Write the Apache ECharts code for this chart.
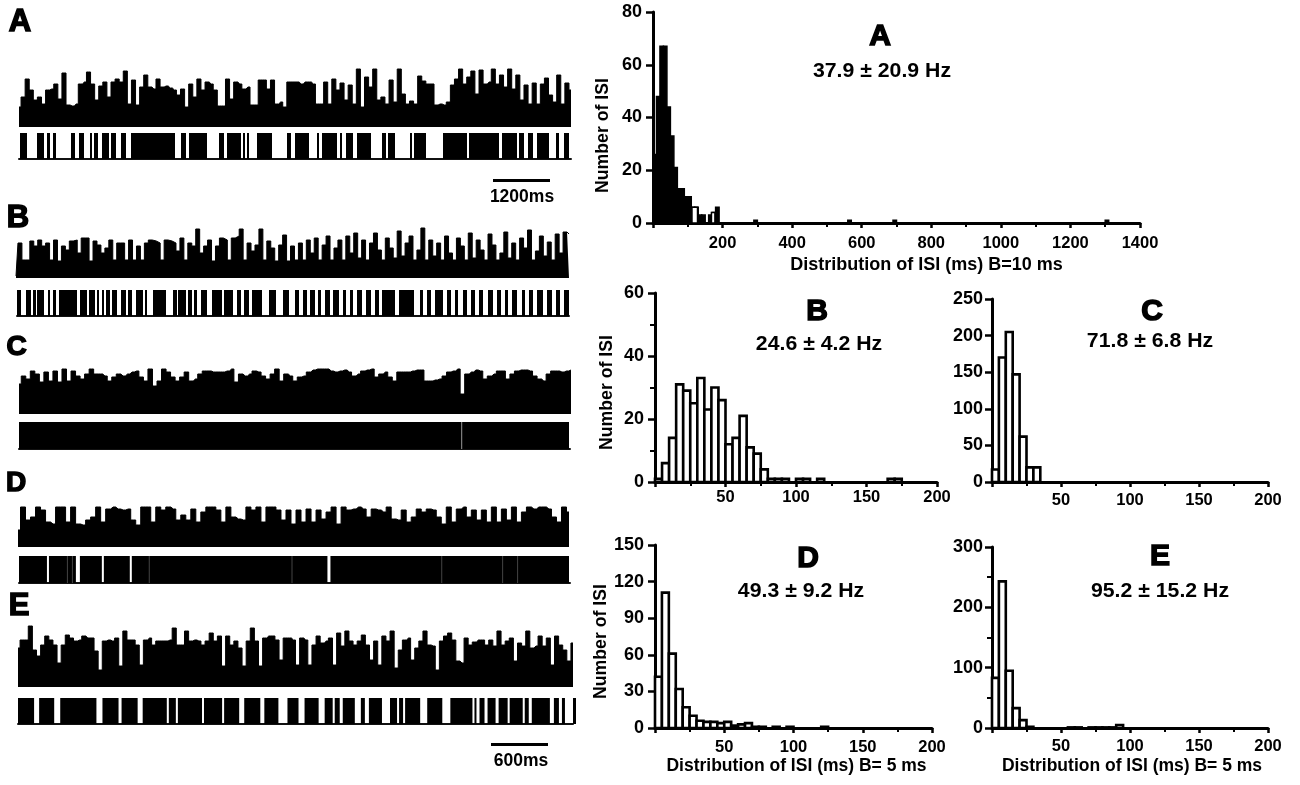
<!DOCTYPE html>
<html>
<head>
<meta charset="utf-8">
<title>ISI distributions</title>
<script src="https://cdn.jsdelivr.net/npm/echarts@6/dist/echarts.min.js"></script>
<style>
html, body {margin:0; padding:0; background:#fff;}
#main {width:1300px; height:785px;}
</style>
</head>
<body>
<div id="main"></div>
<script>
// ISI histograms: counts per bin
var histAHead = [26,48,67,67,44,33,21,13,13,10,10,6,6,3,3,0,3,4,6]; // 10 ms bins from 0
var histATail = [[290,1],[560,1],[690,1],[1300,1]];                 // [bin start, count]
var histAHollow = [[112,128,6],[168,178,4]];
var histB = [1,6,14,31,29,25,33,23,30,26,12,14,21,11,9,4,1,1,1,0,1,1,0,1,0,0,0,0,0,0,0,0,0,1,1];
var histC = [17,170,205,147,62,20,20];
var histD = [42,111,61,32,17,10,6,5,5,4,5,2,3,4,1,1,0,1,0,1,0,0,0,0,1];
var histE = [83,243,95,33,13,2,0,0,0,0,0,1,1,0,1,1,1,1,5];

// voltage traces: envelope height along the sweep
var traceA = [20,30,48,37,27,30,23,37,38,43,28,54,22,21,23,43,45,55,43,27,41,45,30,45,48,45,56,23,47,22,40,52,40,38,48,40,41,39,37,32,38,20,43,30,48,37,45,43,37,21,21,48,28,45,43,38,40,22,22,47,47,38,47,23,25,20,45,45,
  45,43,45,45,43,23,23,45,23,48,37,44,27,42,23,58,20,50,40,58,27,30,23,47,25,58,33,23,26,23,51,46,43,43,22,23,22,25,42,48,58,43,50,56,33,57,43,45,58,43,52,40,58,38,52,27,42,23,44,23,43,49,32,25,52,23,44,37];
var traceB = [2,35,18,18,37,32,38,32,35,18,38,17,32,28,37,38,25,40,40,17,37,33,25,30,38,18,35,35,18,38,18,32,18,35,38,37,35,18,38,37,35,27,40,18,35,32,49,25,32,38,17,32,40,38,18,40,42,49,18,35,27,33,49,18,37,30,17,33,43,17,32,18,
  35,18,38,25,40,18,33,42,18,30,38,18,42,25,45,20,38,18,35,45,28,18,40,30,20,47,22,35,42,18,28,50,18,38,22,35,18,42,25,18,40,32,18,45,20,38,28,18,44,33,18,25,46,20,35,18,40,30,48,18,27,42,22,36,18,44,25,46,44];
var traceC = [30,38,35,43,40,32,42,33,43,32,45,33,43,38,35,40,45,40,40,38,33,37,40,38,40,42,43,37,33,45,28,33,45,42,37,33,37,42,33,35,40,43,43,42,42,42,43,45,32,40,38,40,43,42,38,35,40,45,33,40,38,33,37,38,42,44,45,45,45,43,42,43,44,42,38,40,43,44,45,37,40,42,37,33,42,42,42,43,44,44,33,33,34,35,38,42,43,45,20,40,42,44,43,35,38,40,43,43,35,40,43,44,44,43,38,35,33,40,43,43,42,43,44];
var traceD = [17,40,27,30,40,37,25,23,40,40,25,40,23,22,27,30,40,25,38,40,38,37,38,27,22,40,40,25,40,37,40,38,27,32,27,38,25,35,40,40,37,25,40,30,28,27,40,37,40,25,40,40,37,27,37,23,37,25,38,25,37,28,35,40,23,40,37,38,40,38,30,38,37,35,40,28,27,37,25,30,38,35,38,37,30,23,40,25,38,40,30,37,27,37,25,40,25,38,27,40,25,35,40,38,40,40,38,30,25,40,35];
var traceE = [39,47,47,61,37,31,42,51,47,42,24,42,52,49,46,47,51,49,49,36,17,46,47,46,49,21,56,47,47,42,22,47,49,42,46,46,46,47,59,42,42,56,46,47,46,42,46,54,46,51,21,51,42,46,39,21,46,59,46,21,49,51,51,47,27,49,49,47,22,
  49,47,22,42,51,44,46,49,22,54,41,56,46,42,46,52,42,27,46,22,51,46,56,19,37,47,49,27,39,46,56,42,41,17,46,51,54,47,26,24,49,42,45,47,47,42,47,41,56,42,46,49,26,44,41,56,39,41,51,41,49,22,51,42,37,26,44];

// spike rasters: [on, off] along the sweep
var rasterA = [[1,8],[18,25],[28,31],[34,37],[52,56],[60,65],[71,73],[75,79],[83,90],[92,97],[102,107],[112,156],[162,167],[170,188],[200,205],[208,222],[224,226],[228,230],[238,253],[268,272],[276,290],[298,300],[303,318],[321,323],[327,334],[338,352],[363,367],[369,376],[391,393],[395,407],[424,448],[450,480],[483,498],[500,505],[509,514],[518,530],[537,540],[545,550]];
var rasterB = [[0,4],[9,14],[16,19],[20,27],[31,33],[36,39],[42,60],[63,70],[72,78],[80,82],[85,87],[89,93],[95,100],[104,109],[111,115],[119,126],[128,130],[136,149],[156,160],[161,169],[171,175],[177,180],[184,190],[195,205],[207,216],[220,224],[227,232],[235,245],[252,259],[266,272],[278,282],[286,290],[293,298],[301,304],[308,313],[316,322],[326,329],[333,336],[340,345],[349,354],[358,362],[365,378],[382,397],[403,406],[410,414],[418,426],[430,434],[438,441],[446,450],[454,458],[462,466],[471,476],[480,484],[488,491],[495,500],[505,508],[512,516],[520,526],[530,535],[539,543],[547,552]];
var rasterC = [[0,551]];
var rasterCGrey = [443];
var rasterD = [[0,28],[30,57],[61,83],[85,111],[113,309],[312,551]];
var rasterDGrey = [48,53,130,273,423,484,499];
var rasterE = [[0,16],[21,36],[42,78],[84,100],[103,119],[124,148],[150,157],[159,183],[185,203],[205,220],[225,241],[245,259],[268,279],[285,299],[305,313],[315,320],[323,335],[341,345],[349,362],[370,377],[379,383],[385,400],[407,422],[430,452],[454,456],[459,464],[467,475],[478,487],[489,502],[504,508],[511,529],[533,538],[541,544],[552,555]];

var FONT = '"Liberation Sans", Arial, sans-serif';

function bins(values, width) {
    var out = [];
    for (var i = 0; i < values.length; i++) {
        if (values[i] > 0) out.push([i * width, (i + 1) * width, values[i]]);
    }
    return out;
}
function tail(pairs, width) {
    return pairs.map(function (p) { return [p[0], p[0] + width, p[1]]; });
}
function spans(list) {
    return list.map(function (s) { return [s[0], s[1], 1]; });
}
function marks(list) {
    return list.map(function (t) { return [t, t + 1, 1]; });
}
function indexed(values) {
    return values.map(function (v, i) { return [i, v]; });
}
function rects(fill, stroke, lineWidth) {
    return function (params, api) {
        var a = api.coord([api.value(0), api.value(2)]);
        var b = api.coord([api.value(1), 0]);
        return {
            type: 'rect',
            shape: {x: a[0], y: a[1], width: b[0] - a[0], height: b[1] - a[1]},
            style: {fill: fill, stroke: stroke, lineWidth: lineWidth}
        };
    };
}

var grids = [], xAxes = [], yAxes = [], series = [];

function addGrid(left, top, width, height, xAxis, yAxis) {
    var idx = grids.length;
    grids.push({left: left, top: top, width: width, height: height, containLabel: false});
    xAxis.gridIndex = idx;
    yAxis.gridIndex = idx;
    xAxes.push(xAxis);
    yAxes.push(yAxis);
    return idx;
}
function customSeries(idx, data, render, z) {
    series.push({
        type: 'custom', xAxisIndex: idx, yAxisIndex: idx, data: data, renderItem: render,
        encode: {x: [0, 1], y: 2}, clip: false, silent: true, animation: false, z: z || 2
    });
}

function histogram(box, xMax, xStep, yMax, yStep, o) {
    return addGrid(box[0], box[1], box[2], box[3], {
        type: 'value', min: 0, max: xMax, interval: xStep, splitLine: {show: false},
        name: o.xName || '', nameLocation: 'middle', nameGap: o.xGap || 29,
        nameTextStyle: {fontFamily: FONT, fontWeight: 'bold', fontSize: o.xSize || 17.5, color: '#000', padding: [0, 0, 0, o.xShift || 0]},
        axisLine: {show: true, lineStyle: {color: '#000', width: 3}},
        axisTick: {show: true, length: 5, lineStyle: {color: '#000', width: 2.5}},
        minorTick: {show: true, splitNumber: 2, length: 4, lineStyle: {color: '#000', width: 2}},
        axisLabel: {
            fontFamily: FONT, fontWeight: 'bold', fontSize: 16.5, color: '#000', margin: o.xMargin, showMinLabel: false,
            formatter: function (v) { return String(v); }
        }
    }, {
        type: 'value', min: 0, max: yMax, interval: yStep, splitLine: {show: false},
        name: o.yName || '', nameLocation: 'middle', nameGap: o.yGap || 40,
        nameTextStyle: {fontFamily: FONT, fontWeight: 'bold', fontSize: 17.7, color: '#000', padding: [0, o.yShift || 0, 0, 0]},
        axisLine: {show: true, lineStyle: {color: '#000', width: 3}},
        axisTick: {show: true, length: 7, lineStyle: {color: '#000', width: 2.5}},
        minorTick: {show: !!o.yMinor, splitNumber: 2, length: 5, lineStyle: {color: '#000', width: 2}},
        axisLabel: {fontFamily: FONT, fontWeight: 'bold', fontSize: 18, color: '#000', margin: o.yMargin}
    });
}

function hiddenAxis(min, max, showLine) {
    return {
        type: 'value', min: min, max: max, splitLine: {show: false}, axisTick: {show: false},
        axisLabel: {show: false},
        axisLine: {show: !!showLine, lineStyle: {color: '#111', width: 2}}
    };
}

function trace(box, values, yMax) {
    var idx = addGrid(box[0], box[1], box[2], box[3], hiddenAxis(0, values.length - 1), hiddenAxis(0, yMax));
    series.push({
        type: 'line', xAxisIndex: idx, yAxisIndex: idx, data: indexed(values), step: 'middle',
        symbol: 'none', silent: true, animation: false, clip: false,
        lineStyle: {color: '#000', width: 1}, areaStyle: {color: '#000', opacity: 1}
    });
}
function raster(box, list, grey, greyColor) {
    var idx = addGrid(box[0], box[1], box[2], box[3], hiddenAxis(0, 552, true), hiddenAxis(0, 1));
    customSeries(idx, spans(list), rects('#000', null, 0));
    if (grey) customSeries(idx, marks(grey), rects(greyColor, null, 0), 3);
}

// histograms
var BAR = 2.6;
var hA = histogram([653, 12, 487, 211], 1400, 200, 80, 20, {
    xName: 'Distribution of ISI (ms) B=10 ms', xSize: 18, xShift: 60, xGap: 33, xMargin: 12,
    yName: 'Number of ISI', yGap: 41, yShift: 36, yMargin: 11
});
customSeries(hA, bins(histAHead, 10).concat(tail(histATail, 10)), rects('#000', '#000', 1.5));
customSeries(hA, histAHollow, rects('#fff', '#000', 1.5), 3);
var hB = histogram([655, 293, 282, 189], 200, 50, 60, 20, {yMinor: true, yName: 'Number of ISI', yGap: 39, yShift: 10, xMargin: 7, yMargin: 11});
customSeries(hB, bins(histB, 5), rects('#fff', '#000', BAR));
var hC = histogram([992, 299, 276, 183], 200, 50, 250, 50, {xMargin: 10, yMargin: 9});
customSeries(hC, bins(histC, 5), rects('#fff', '#000', BAR));
var hD = histogram([655, 545, 277, 183], 200, 50, 150, 30, {
    xName: 'Distribution of ISI (ms) B= 5 ms', xShift: 6, xMargin: 11,
    yName: 'Number of ISI', yGap: 44, yShift: 10, yMargin: 11
});
customSeries(hD, bins(histD, 5), rects('#fff', '#000', BAR));
var hE = histogram([992, 547, 276, 181], 200, 50, 300, 100, {
    yMinor: true, xName: 'Distribution of ISI (ms) B= 5 ms', xShift: 4, xMargin: 10, yMargin: 9
});
customSeries(hE, bins(histE, 5), rects('#fff', '#000', BAR));

// traces and rasters
trace([19, 65, 552, 62], traceA, 62);
raster([19, 133, 552, 26], rasterA);
trace([16, 228, 553, 50], traceB, 50);
raster([17, 290, 552, 26], rasterB);
trace([19, 368, 552, 46], traceC, 46);
raster([19, 422, 551, 27], rasterC, rasterCGrey, '#999');
trace([18, 506, 551, 41], traceD, 41);
raster([19, 556, 551, 27], rasterD, rasterDGrey, '#444');
trace([18, 625, 555, 62], traceE, 62);
raster([18, 698, 555, 26], rasterE);

function label(str, x, y, size, heavy, stretch) {
    return {
        type: 'text', x: x, y: y, silent: true, scaleX: stretch || 1,
        style: {
            text: str, align: 'center', verticalAlign: 'middle',
            font: 'bold ' + size + 'px ' + FONT, fill: '#000',
            stroke: heavy ? '#000' : null, lineWidth: heavy ? 1.5 : 0
        }
    };
}
function stat(str, x, y) {
    return label(str, x, y, 19.5, false, 1.09);
}
function scaleBar(x, y, width) {
    return {type: 'rect', silent: true, shape: {x: x, y: y, width: width, height: 3}, style: {fill: '#000'}};
}

var option = {
    animation: false,
    backgroundColor: '#fff',
    grid: grids,
    xAxis: xAxes,
    yAxis: yAxes,
    series: series,
    graphic: [
        label('A', 20, 22, 31, true), label('B', 18, 218, 31, true), label('C', 16.5, 347, 28, true),
        label('D', 16, 483, 28, true), label('E', 19, 606, 31, true),
        label('A', 880, 37, 30, true), label('B', 817, 312, 30, true), label('C', 1152, 312, 30, true),
        label('D', 808, 559, 30, true), label('E', 1160, 557, 30, true),
        stat('37.9 ± 20.9 Hz', 882, 72), stat('24.6 ± 4.2 Hz', 819, 345),
        stat('71.8 ± 6.8 Hz', 1150, 342), stat('49.3 ± 9.2 Hz', 801, 592),
        stat('95.2 ± 15.2 Hz', 1160, 592),
        scaleBar(493, 179, 57), label('1200ms', 522, 197, 17.5),
        scaleBar(491, 743, 57), label('600ms', 521, 761, 17.5)
    ]
};

var myChart = echarts.init(document.getElementById('main'), null, {renderer: 'canvas'});
myChart.setOption(option, true);
</script>
</body>
</html>
